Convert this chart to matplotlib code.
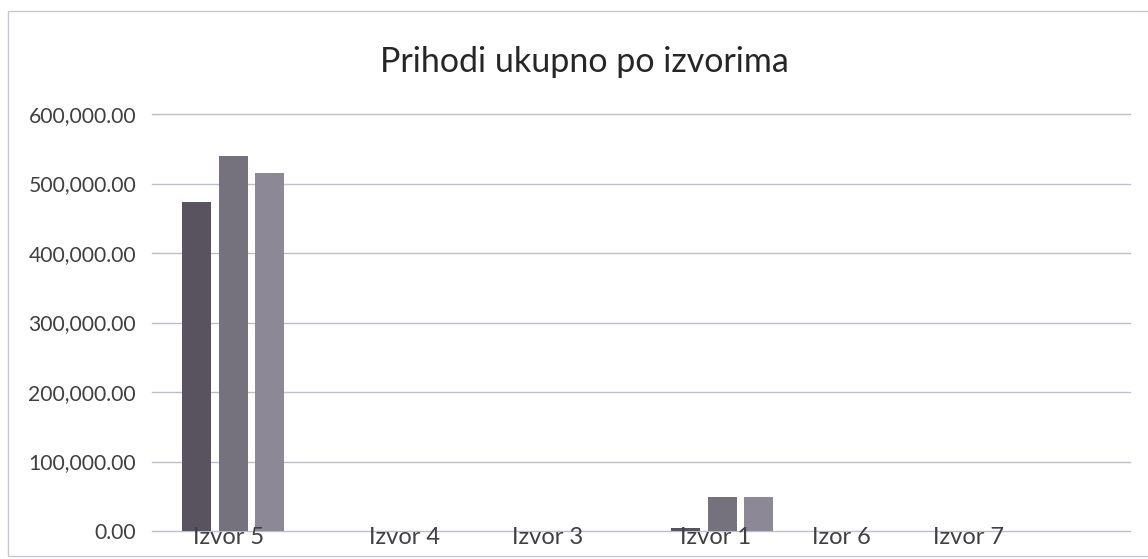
import matplotlib
matplotlib.use("Agg")
import matplotlib.pyplot as plt
import numpy as np
from matplotlib.patches import Rectangle
from matplotlib.ticker import FuncFormatter

# data
categories = ["Izvor 5", "Izvor 4", "Izvor 3", "Izvor 1", "Izor 6", "Izvor 7"]
series_1 = [474000, 0, 0, 4500, 0, 0]
series_2 = [539000, 0, 0, 49000, 0, 0]
series_3 = [515000, 0, 0, 49500, 0, 0]
y_ticks = [0, 100000, 200000, 300000, 400000, 500000, 600000]

# labels in the original are not centred under their groups
label_shift = [-0.03, 0.05, -0.07, -0.04, -0.27, -0.49]

colors = ["#58535f", "#75717d", "#8c8895"]
grid_color = "#bdbdd0"
text_color = "#404040"

plt.rcParams["font.family"] = ["Lato", "DejaVu Sans"]

fig = plt.figure(figsize=(11.48, 5.59), dpi=100)
ax = fig.add_axes([0.1324, 0.050, 0.8516, 0.746])

x = np.arange(len(categories))
width = 0.178
step = 0.224
for i, (vals, col) in enumerate(zip([series_1, series_2, series_3], colors)):
    ax.bar(x + (i - 1) * step, vals, width=width, color=col, zorder=3)

ax.set_xlim(-0.5, len(categories) - 0.5)
ax.set_ylim(0, 600000)
ax.set_yticks(y_ticks)
ax.yaxis.set_major_formatter(FuncFormatter(lambda v, _: f"{v:,.2f}"))
ax.grid(axis="y", color=grid_color, linewidth=1.0, zorder=0)
ax.set_axisbelow(True)
for gl in ax.yaxis.get_gridlines():
    gl.set_clip_on(False)
for s in ax.spines.values():
    s.set_visible(False)

# category labels sit on top of the bars, just under the zero line
ax.set_xticks([])
for pos, name in zip(x + np.array(label_shift), categories):
    ax.text(pos, 0.010, name, transform=ax.get_xaxis_transform(), ha="center",
            va="top", fontsize=17, color=text_color, zorder=6)
ax.tick_params(axis="y", length=0, pad=11.5, labelsize=15.2, labelcolor=text_color)

fig.text(0.509, 0.889, "Prihodi ukupno po izvorima", ha="center", va="center",
         fontsize=24.5, color="#262626")

# chart frame
fig.add_artist(Rectangle((0.007, 0.005), 1.2, 0.975, transform=fig.transFigure,
                         fill=False, edgecolor="#c8c8d4", linewidth=1.0))

fig.savefig("out.png", dpi=100)
